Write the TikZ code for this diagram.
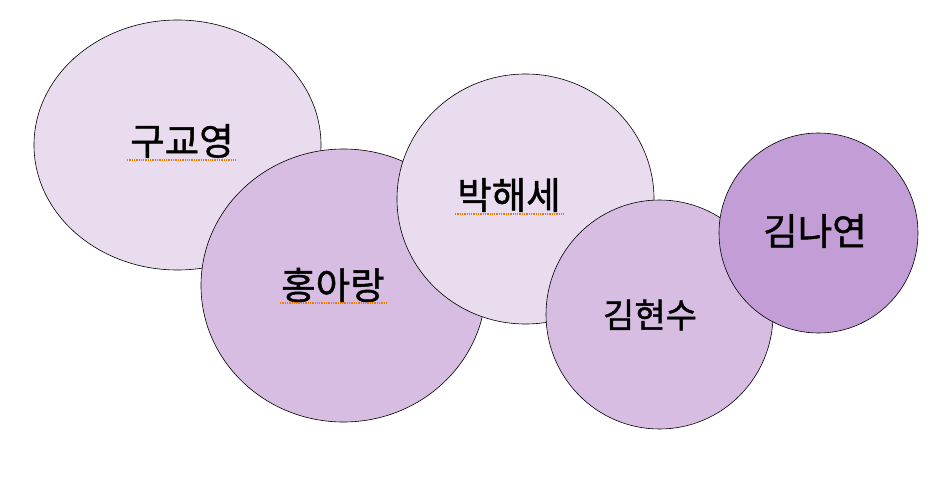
\documentclass[tikz,border=0pt]{standalone}
\usepackage{fontspec}
\newfontfamily\kr[FakeBold=1.2]{Noto Sans CJK KR}
\usetikzlibrary{shapes.geometric}
\definecolor{lightp}{HTML}{EADCEF}
\definecolor{midp}{HTML}{D8BDE3}
\definecolor{darkp}{HTML}{C39DD6}
\definecolor{spellc}{HTML}{F07800}
\tikzset{
  light/.style={fill=lightp},
  mid/.style={fill=midp},
  dark/.style={fill=darkp},
  blob/.style={draw=black, line width=0.6pt},
  lbl/.style={font=\kr\fontsize{37.5}{40}\selectfont, text=black},
  spell/.style={draw=spellc, line width=1.3pt, dash pattern=on 1.3pt off 1pt}
}
\begin{document}
\begin{tikzpicture}[x=1pt,y=-1pt]
\useasboundingbox (0,0) rectangle (940,481);
\fill[white] (0,0) rectangle (940,481);
\draw[blob,light] (177.5,145) ellipse [x radius=143.5, y radius=125];
\draw[blob,mid] (343.5,285.5) ellipse [x radius=142.5, y radius=136.5];
\draw[blob,light] (525.5,199) ellipse [x radius=128.5, y radius=125];
\draw[blob,mid] (659.5,314.5) ellipse [x radius=113.5, y radius=114.5];
\draw[blob,dark] (818.5,233) ellipse [x radius=99.5, y radius=100];
\node[lbl] (a) at (182,141) {구교영};
\node[lbl] (b) at (333,285) {홍아랑};
\node[lbl] (c) at (509,195) {박해세};
\node[lbl,font=\kr\fontsize{34}{36}\selectfont] (d) at (650,315) {김현수};
\node[lbl] (e) at (815,231) {김나연};
\coordinate (a1) at (127,160); \coordinate (a2) at (236,160);
\coordinate (b1) at (280,303); \coordinate (b2) at (388,303);
\coordinate (c1) at (455,214); \coordinate (c2) at (565,214);
\draw[spell] (a1) -- (a2);
\draw[spell] (b1) -- (b2);
\draw[spell] (c1) -- (c2);
\end{tikzpicture}
\end{document}
